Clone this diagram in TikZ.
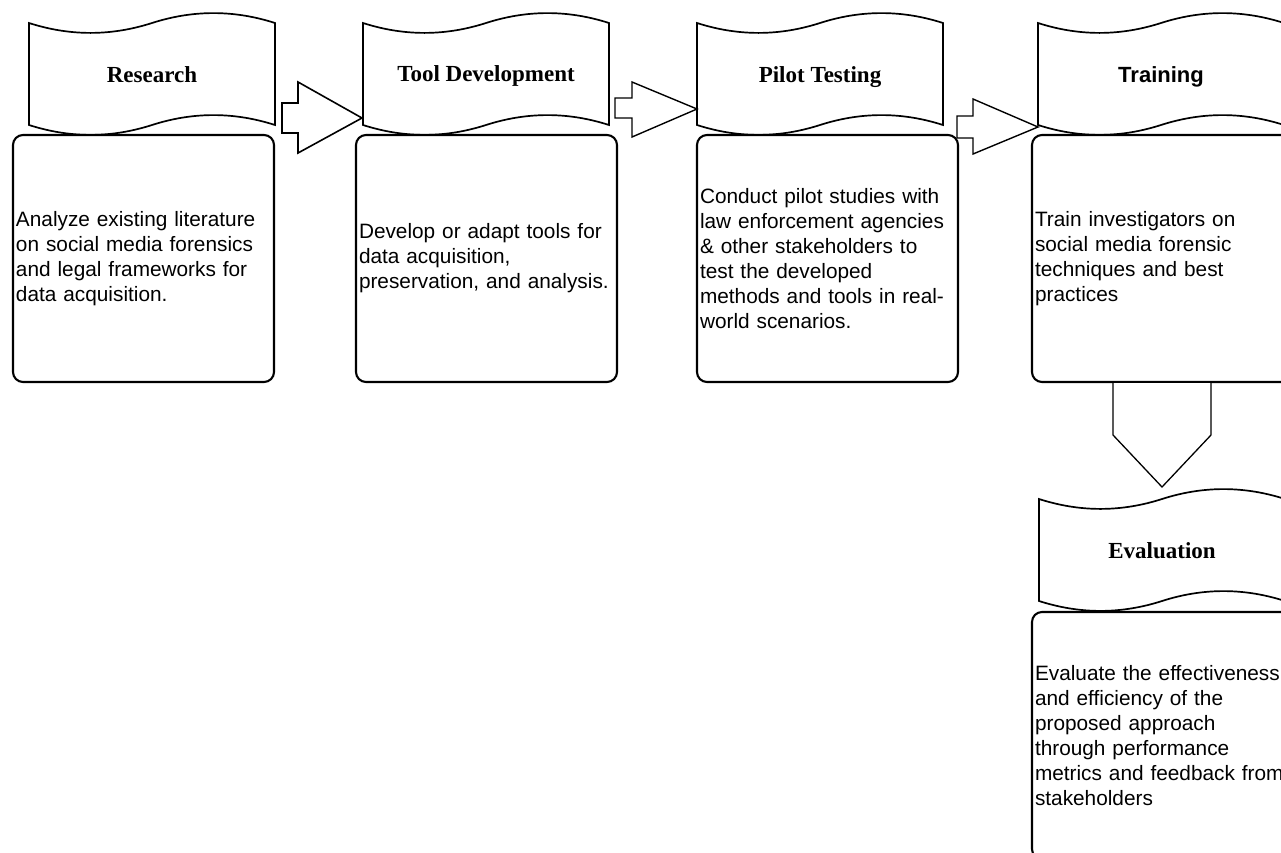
\documentclass[tikz,border=0pt]{standalone}
\usepackage{fontspec}
\setmainfont{Liberation Serif}
\setsansfont{Liberation Sans}
\usepackage{tikz}
\newcommand{\drawtape}[2]{%
  \draw[tapeline, shift={(#1,#2)}] (0,11) .. controls (41,24.2) and (82,24.2) .. (123,11)
    .. controls (164,-2.2) and (205,-2.2) .. (246,11) -- (246,113)
    .. controls (205,99.8) and (164,99.8) .. (123,113)
    .. controls (82,126.2) and (41,126.2) .. (0,113) -- cycle;}

\begin{document}
\begin{tikzpicture}[x=1pt, y=-1pt,
    tapeline/.style={draw=black, line width=1.7pt},
    tapetitle/.style={anchor=base, font=\fontsize{23}{27}\selectfont\bfseries},
    stepbox/.style={draw=black, line width=2.1pt, rounded corners=10pt,
        minimum width=261pt, minimum height=247pt, text width=255pt,
        inner xsep=3pt, align=left, font=\sffamily\fontsize{20.8}{25}\selectfont},
    blockarrow/.style={draw=black, line width=1.6pt, fill=white, line join=miter}]

    \useasboundingbox (0,0) rectangle (1281,852);

    % Step boxes
    \node[stepbox] (resbox) at (143.5,258.5) {Analyze existing literature\\on social media forensics\\and legal frameworks for\\data acquisition.};
    \node[stepbox] (toolbox) at (486.5,258.5) {Develop or adapt tools for\\data acquisition,\\preservation, and analysis.};
    \node[stepbox] (pilotbox) at (827.5,258.5) {Conduct pilot studies with\\law enforcement agencies\\\& other stakeholders to\\test the developed\\methods and tools in real-\\world scenarios.};
    \node[stepbox] (trainbox) at (1162.5,258.5) {Train investigators on\\social media forensic\\techniques and best\\practices};
    \node[stepbox] (evalbox) at (1162.5,735.5) {Evaluate the effectiveness\\and efficiency of the\\proposed approach\\through performance\\metrics and feedback from\\stakeholders};

    % Tapes
    \drawtape{29}{12}
    \drawtape{363}{12}
    \drawtape{697}{12}
    \drawtape{1038}{12}
    \drawtape{1039}{488}

    \node[tapetitle] (research) at (152,82) {Research};
    \node[tapetitle] (tooldev) at (486,81) {Tool Development};
    \node[tapetitle] (pilot) at (820,82) {Pilot Testing};
    \node[tapetitle, font=\sffamily\fontsize{22}{26}\selectfont\bfseries] (training) at (1161,82) {Training};
    \node[tapetitle] (evaluation) at (1162,558) {Evaluation};

    % Block arrows
    \draw[blockarrow] (282,103) -- (298,103) -- (298,82) -- (362,118) -- (298,153) -- (298,133) -- (282,133) -- cycle;
    \draw[blockarrow, line width=1.4pt] (615,98) -- (632,98) -- (632,82) -- (697,109) -- (632,137) -- (632,118) -- (615,118) -- cycle;
    \draw[blockarrow, line width=1.4pt] (957,116) -- (973,116) -- (973,99) -- (1038,127) -- (973,154) -- (973,138) -- (957,138) -- cycle;
    \draw[blockarrow, line width=1.3pt] (1113,383) -- (1113,435) -- (1162,487) -- (1211,435) -- (1211,383);
\end{tikzpicture}
\end{document}
